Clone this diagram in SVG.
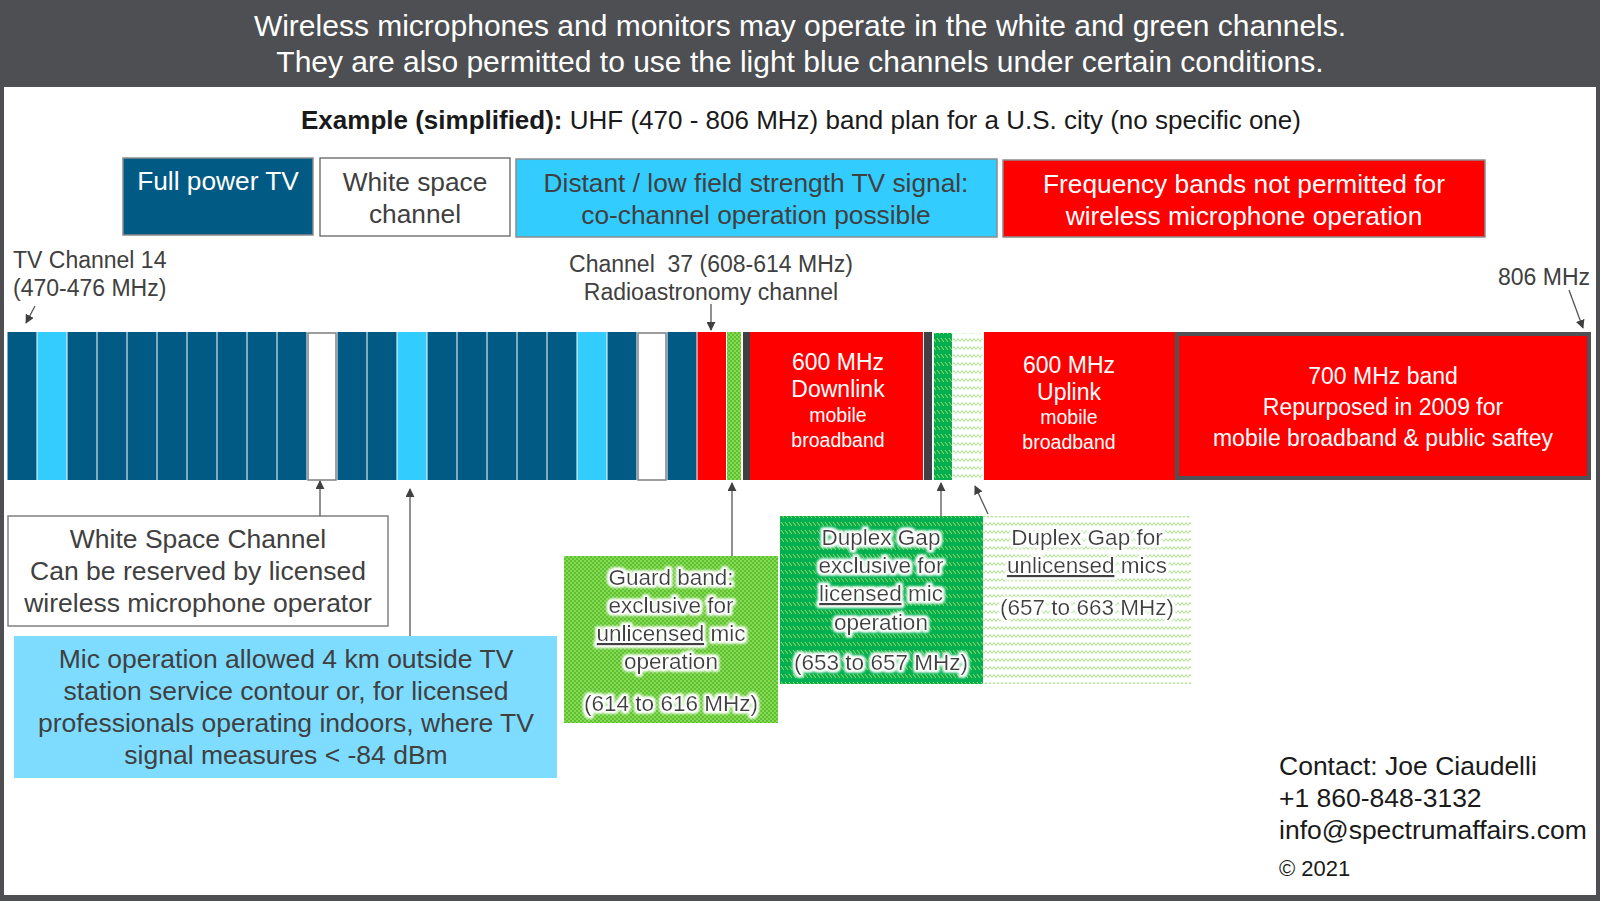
<svg xmlns="http://www.w3.org/2000/svg" width="1600" height="901" viewBox="0 0 1600 901">
<style>
text{font-family:"Liberation Sans",Arial,sans-serif}
.hdr{fill:#fff;font-size:30px;text-anchor:middle}
.lg{font-size:26.3px;text-anchor:middle}
.lbl{fill:#404040;font-size:23px}
.note{fill:#404040;font-size:26.5px;text-anchor:middle}
.gn{fill:#404040;font-size:22.5px;text-anchor:middle}
.bw{fill:#fff;text-anchor:middle}
.dk{fill:#005a84}
.lb{fill:#33ccff}
.wh{fill:#fff;stroke:#7f7f7f;stroke-width:1.5}
.rd{fill:#ff0000}
.sep{fill:#404044}
.arr{stroke:#555;stroke-width:1.3;fill:none;marker-end:url(#ah)}
.ctc{fill:#1a1a1a;font-size:26.5px}
.ul{text-decoration:underline}
</style>
<defs>
<marker id="ah" viewBox="0 0 10 10" refX="9" refY="5" markerWidth="9" markerHeight="9" markerUnits="userSpaceOnUse" orient="auto"><path d="M0,0 L10,5 L0,10 z" fill="#404040"/></marker>
<pattern id="guard" width="4" height="4" patternUnits="userSpaceOnUse"><rect width="4" height="4" fill="#5cc22e"/><circle cx="1" cy="1" r="0.9" fill="#9ee36c"/><circle cx="3" cy="3" r="0.9" fill="#9ee36c"/></pattern>
<pattern id="lic" width="8" height="8" patternUnits="userSpaceOnUse"><rect width="8" height="8" fill="#00b050"/><path d="M1,2 L4,6 M5,2 L8,6" stroke="#a8d860" stroke-width="1"/></pattern>
<pattern id="unlic" width="8" height="8" patternUnits="userSpaceOnUse"><rect width="8" height="8" fill="#fff"/><path d="M0,5.5 L2,2.5 L4,5.5 L6,2.5 L8,5.5" stroke="#9cdc78" stroke-width="0.9" fill="none"/></pattern>
<filter id="glow" x="-10%" y="-30%" width="120%" height="160%"><feMorphology in="SourceAlpha" operator="dilate" radius="1.5" result="d"/><feGaussianBlur in="d" stdDeviation="1.6" result="b"/><feFlood flood-color="#ffffff"/><feComposite in2="b" operator="in" result="g"/><feMerge><feMergeNode in="g"/><feMergeNode in="g"/><feMergeNode in="SourceGraphic"/></feMerge></filter>
</defs>

<rect width="1600" height="901" fill="#4d4f53"/>
<rect x="4" y="87" width="1592" height="808" fill="#fff"/>

<g id="title">
<text class="hdr" x="800" y="36">Wireless microphones and monitors may operate in the white and green channels.</text>
<text class="hdr" x="800" y="72">They are also permitted to use the light blue channels under certain conditions.</text>
<text x="801" y="129" font-size="26" fill="#1a1a1a" text-anchor="middle"><tspan font-weight="bold">Example (simplified):</tspan> UHF (470 - 806 MHz) band plan for a U.S. city (no specific one)</text>
</g>

<g id="legend">
<g id="leg-full"><rect x="123" y="158" width="190" height="77" fill="#005a84" stroke="#8c8c8c" stroke-width="1.5"/><text class="lg" x="218" y="190" fill="#fff">Full power TV</text></g>
<g id="leg-white"><rect x="320" y="158" width="190" height="78" fill="#fff" stroke="#555" stroke-width="1.2"/><text class="lg" x="415" y="191" fill="#404040">White space</text><text class="lg" x="415" y="223" fill="#404040">channel</text></g>
<g id="leg-distant"><rect x="516" y="159" width="481" height="78" fill="#33ccff" stroke="#8c8c8c" stroke-width="1.5"/><text class="lg" x="756" y="192" fill="#404040">Distant / low field strength TV signal:</text><text class="lg" x="756" y="224" fill="#404040">co-channel operation possible</text></g>
<g id="leg-red"><rect x="1003" y="160" width="482" height="77" fill="#ff0000" stroke="#8c8c8c" stroke-width="1.5"/><text class="lg" x="1244" y="193" fill="#fff">Frequency bands not permitted for</text><text class="lg" x="1244" y="225" fill="#fff">wireless microphone operation</text></g>
</g>

<g id="top-labels">
<text class="lbl" x="13" y="268">TV Channel 14</text>
<text class="lbl" x="13" y="296">(470-476 MHz)</text>
<text class="lbl" x="711" y="272" text-anchor="middle">Channel &#160;37 (608-614 MHz)</text>
<text class="lbl" x="711" y="300" text-anchor="middle">Radioastronomy channel</text>
<text class="lbl" x="1590" y="285" text-anchor="end">806 MHz</text>
</g>

<g id="channels">
<rect class="dk" x="7.5" y="332" width="29" height="148"/>
<rect class="lb" x="37.5" y="332" width="29" height="148"/>
<rect class="dk" x="67.5" y="332" width="29" height="148"/>
<rect class="dk" x="97.5" y="332" width="29" height="148"/>
<rect class="dk" x="127.5" y="332" width="29" height="148"/>
<rect class="dk" x="157.5" y="332" width="29" height="148"/>
<rect class="dk" x="187.5" y="332" width="29" height="148"/>
<rect class="dk" x="217.5" y="332" width="29" height="148"/>
<rect class="dk" x="247.5" y="332" width="29" height="148"/>
<rect class="dk" x="277.5" y="332" width="29" height="148"/>
<rect class="wh" x="308" y="333" width="28" height="147"/>
<rect class="dk" x="337.5" y="332" width="29" height="148"/>
<rect class="dk" x="367.5" y="332" width="29" height="148"/>
<rect class="lb" x="397.5" y="332" width="29" height="148"/>
<rect class="dk" x="427.5" y="332" width="29" height="148"/>
<rect class="dk" x="457.5" y="332" width="29" height="148"/>
<rect class="dk" x="487.5" y="332" width="29" height="148"/>
<rect class="dk" x="517.5" y="332" width="29" height="148"/>
<rect class="dk" x="547.5" y="332" width="29" height="148"/>
<rect class="lb" x="577.5" y="332" width="29" height="148"/>
<rect class="dk" x="607.5" y="332" width="29" height="148"/>
<rect class="wh" x="638" y="333" width="28" height="147" stroke="#505050" stroke-width="2"/>
<rect class="dk" x="667.5" y="332" width="29" height="148"/>
<rect class="rd" x="697.5" y="332" width="28.5" height="148"/>
<rect x="727" y="332" width="14" height="148" fill="url(#guard)"/>
<rect class="sep" x="743" y="332" width="7" height="148"/>
</g>

<g id="band-downlink">
<rect class="rd" x="750" y="332" width="173" height="148"/>
<text class="bw" x="838" y="370" font-size="23">600 MHz</text>
<text class="bw" x="838" y="397" font-size="23">Downlink</text>
<text class="bw" x="838" y="422" font-size="19.5">mobile</text>
<text class="bw" x="838" y="447" font-size="19.5">broadband</text>
</g>
<g id="duplex">
<rect class="sep" x="924" y="332" width="8" height="148"/>
<rect x="934" y="333" width="18" height="147" fill="url(#lic)"/>
<rect x="953" y="333" width="29" height="147" fill="url(#unlic)"/>
</g>
<g id="band-uplink">
<rect class="rd" x="984" y="332" width="192" height="148"/>
<text class="bw" x="1069" y="373" font-size="23">600 MHz</text>
<text class="bw" x="1069" y="400" font-size="23">Uplink</text>
<text class="bw" x="1069" y="424" font-size="19.5">mobile</text>
<text class="bw" x="1069" y="449" font-size="19.5">broadband</text>
</g>
<g id="band-700">
<rect x="1177" y="334" width="412" height="144" fill="#ff0000" stroke="#505055" stroke-width="4"/>
<text class="bw" x="1383" y="384" font-size="23">700 MHz band</text>
<text class="bw" x="1383" y="415" font-size="23">Repurposed in 2009 for</text>
<text class="bw" x="1383" y="446" font-size="23">mobile broadband &amp; public saftey</text>
</g>

<g id="box-whitespace">
<rect x="8" y="516" width="380" height="110" fill="#fff" stroke="#808080" stroke-width="1.5"/>
<text class="note" x="198" y="548">White Space Channel</text>
<text class="note" x="198" y="580">Can be reserved by licensed</text>
<text class="note" x="198" y="612">wireless microphone operator</text>
</g>
<g id="box-lightblue">
<rect x="14" y="636" width="543" height="142" fill="#7ddcff"/>
<text class="note" x="286" y="668">Mic operation allowed 4 km outside TV</text>
<text class="note" x="286" y="700">station service contour or, for licensed</text>
<text class="note" x="286" y="732">professionals operating indoors, where TV</text>
<text class="note" x="286" y="764">signal measures &lt; -84 dBm</text>
</g>
<g id="box-guard">
<rect x="564" y="556" width="214" height="167" fill="url(#guard)"/>
<g filter="url(#glow)">
<text class="gn" x="671" y="585">Guard band:</text>
<text class="gn" x="671" y="613">exclusive for</text>
<text class="gn" x="671" y="641"><tspan class="ul">unlicensed</tspan> mic</text>
<text class="gn" x="671" y="669">operation</text>
<text class="gn" x="671" y="711">(614 to 616 MHz)</text>
</g>
</g>
<g id="box-licensed">
<rect x="780" y="516" width="203" height="168" fill="url(#lic)"/>
<g filter="url(#glow)">
<text class="gn" x="881" y="545">Duplex Gap</text>
<text class="gn" x="881" y="573">exclusive for</text>
<text class="gn" x="881" y="601"><tspan class="ul">licensed</tspan> mic</text>
<text class="gn" x="881" y="630">operation</text>
<text class="gn" x="881" y="670">(653 to 657 MHz)</text>
</g>
</g>
<g id="box-unlicensed">
<rect x="983" y="516" width="208" height="168" fill="url(#unlic)"/>
<g filter="url(#glow)">
<text class="gn" x="1087" y="545" fill="#222">Duplex Gap for</text>
<text class="gn" x="1087" y="573" fill="#222"><tspan class="ul">unlicensed</tspan> mics</text>
<text class="gn" x="1087" y="615" fill="#222">(657 to 663 MHz)</text>
</g>
</g>

<g id="contact">
<text class="ctc" x="1279" y="775">Contact: Joe Ciaudelli</text>
<text class="ctc" x="1279" y="807">+1 860-848-3132</text>
<text class="ctc" x="1279" y="839">info@spectrumaffairs.com</text>
<text x="1279" y="876" font-size="22" fill="#1a1a1a">© 2021</text>
</g>

<g id="connectors">
<line class="arr" x1="35" y1="306" x2="26" y2="323"/>
<line class="arr" x1="711" y1="304" x2="711" y2="330"/>
<line class="arr" x1="1569" y1="290" x2="1583" y2="328"/>
<line class="arr" x1="320" y1="516" x2="320" y2="481"/>
<line class="arr" x1="410" y1="636" x2="410" y2="489"/>
<line class="arr" x1="732" y1="556" x2="732" y2="483"/>
<line class="arr" x1="941" y1="516" x2="941" y2="483"/>
<line class="arr" x1="988" y1="514" x2="975" y2="486"/>
</g>
</svg>
